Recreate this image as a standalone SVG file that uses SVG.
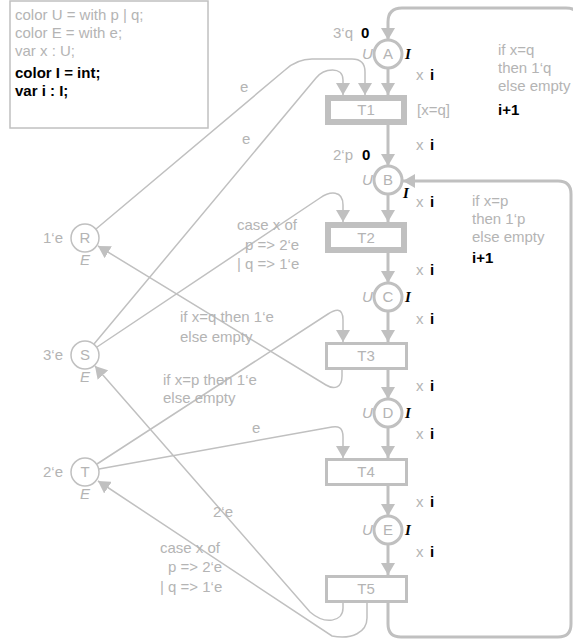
<svg xmlns="http://www.w3.org/2000/svg" width="573" height="639" viewBox="0 0 573 639">
<style>
.t{font-family:"Liberation Sans",Arial,sans-serif;font-size:15px;fill:#b4b4b4}
.b{font-family:"Liberation Sans",Arial,sans-serif;font-size:15px;font-weight:bold;fill:#000}
.it{font-family:"Liberation Sans",Arial,sans-serif;font-size:15px;font-style:italic;fill:#b4b4b4}
.ii{font-family:"Liberation Serif","Times New Roman",serif;font-size:15px;font-style:italic;font-weight:bold;fill:#000}
.pl{fill:#fff;stroke:#c0c0c0;stroke-width:3}
.pls{fill:#fff;stroke:#c0c0c0;stroke-width:1.5}
.tr1{fill:#fff;stroke:#c0c0c0;stroke-width:6}
.tr2{fill:#fff;stroke:#c0c0c0;stroke-width:3}
.a3{fill:none;stroke:#c0c0c0;stroke-width:3;marker-end:url(#ah)}
.a1{fill:none;stroke:#c0c0c0;stroke-width:1.5;marker-end:url(#ah)}
.c{text-anchor:middle}
</style>
<defs>
<marker id="ah" markerUnits="userSpaceOnUse" markerWidth="13" markerHeight="14" refX="12" refY="7" orient="auto">
<path d="M0,0 L12,7 L0,14 z" fill="#c0c0c0"/>
</marker>
</defs>
<g id="declarations">
<rect x="10" y="1" width="198" height="127" fill="#fff" stroke="#c0c0c0" stroke-width="1.5"/>
<text class="t" x="15" y="20">color U = with p | q;</text>
<text class="t" x="15" y="38">color E = with e;</text>
<text class="t" x="15" y="56">var x : U;</text>
<text class="b" x="15" y="78">color I = int;</text>
<text class="b" x="15" y="96">var i : I;</text>
</g>
<g id="connectors">
<path class="a3" d="M388,68 V95"/>
<path class="a3" d="M388,125 V166"/>
<path class="a3" d="M388,194 V222"/>
<path class="a3" d="M388,253 V283"/>
<path class="a3" d="M388,311 V342"/>
<path class="a3" d="M388,369 V399"/>
<path class="a3" d="M388,427 V458"/>
<path class="a3" d="M388,485 V516"/>
<path class="a3" d="M388,544 V575"/>
<path class="a3" d="M580,200 V22 Q580,8 566,8 H402 Q388,8 388,22 V40"/>
<path class="a3" d="M388,603 V624 Q388,637 401,637 H558 Q571,637 571,624 V194 Q571,181 558,181 H403"/>
<path class="a1" d="M96,229 L285,70 Q297,59 312,59 H352 Q365,59 365,72 V95"/>
<path class="a1" d="M94,344 L316,78 C324,68 343,66 343,80 V95"/>
<path class="a1" d="M97,347 L320,198 C330,191 343,190 343,205 V222"/>
<path class="a1" d="M342,369 V376 C342,388 334,390 326,385 L98,246"/>
<path class="a1" d="M97,464 L328,314 C334,310 343,306 343,320 V342"/>
<path class="a1" d="M99,469 L332,427 C338,426 343,427 343,437 V458"/>
<path class="a1" d="M343,603 V608 C343,622 325,625 310,612 L95,366"/>
<path class="a1" d="M367,603 V618 C367,632 352,640 332,636 L98,481"/>
</g>
<g id="arc-labels">
<text class="t" x="240" y="92">e</text>
<text class="t" x="242" y="144">e</text>
<text class="t" x="252" y="433">e</text>
<text class="t" x="213" y="517">2‘e</text>
<text class="t" x="237" y="230">case x of</text>
<text class="t" x="245" y="250">p =&gt; 2‘e</text>
<text class="t" x="237" y="269">| q =&gt; 1‘e</text>
<text class="t" x="180" y="322">if x=q then 1‘e</text>
<text class="t" x="180" y="342">else empty</text>
<text class="t" x="163" y="385">if x=p then 1‘e</text>
<text class="t" x="163" y="403">else empty</text>
<text class="t" x="160" y="553">case x of</text>
<text class="t" x="168" y="572">p =&gt; 2‘e</text>
<text class="t" x="160" y="592">| q =&gt; 1‘e</text>
<text class="t" x="498" y="55">if x=q</text>
<text class="t" x="498" y="73">then 1‘q</text>
<text class="t" x="498" y="91">else empty</text>
<text class="b" x="498" y="115">i+1</text>
<text class="t" x="472" y="206">if x=p</text>
<text class="t" x="472" y="224">then 1‘p</text>
<text class="t" x="472" y="242">else empty</text>
<text class="b" x="472" y="263">i+1</text>
<text class="t" x="416" y="80">x</text><text class="b" x="430" y="80">i</text>
<text class="t" x="416" y="150">x</text><text class="b" x="430" y="150">i</text>
<text class="t" x="416" y="207">x</text><text class="b" x="430" y="207">i</text>
<text class="t" x="416" y="275">x</text><text class="b" x="430" y="275">i</text>
<text class="t" x="416" y="324">x</text><text class="b" x="430" y="324">i</text>
<text class="t" x="416" y="391">x</text><text class="b" x="430" y="391">i</text>
<text class="t" x="416" y="439">x</text><text class="b" x="430" y="439">i</text>
<text class="t" x="416" y="507">x</text><text class="b" x="430" y="507">i</text>
<text class="t" x="416" y="557">x</text><text class="b" x="430" y="557">i</text>
</g>
<g id="place-A">
<circle class="pl" cx="388" cy="54" r="14"/>
<text class="t c" x="388" y="59">A</text>
<text class="it" x="362" y="59">U</text>
<text class="ii" x="405" y="59">I</text>
<text class="t" x="333" y="38">3‘q</text>
<text class="b" x="361" y="38">0</text>
</g>
<g id="trans-T1">
<rect class="tr1" x="328" y="98" width="76" height="24"/>
<text class="t c" x="366" y="115">T1</text>
<text class="t" x="417" y="115">[x=q]</text>
</g>
<g id="place-B">
<circle class="pl" cx="388" cy="180" r="14"/>
<text class="t c" x="388" y="185">B</text>
<text class="it" x="362" y="185">U</text>
<text class="ii" x="403" y="198">I</text>
<text class="t" x="333" y="160">2‘p</text>
<text class="b" x="362" y="160">0</text>
</g>
<g id="trans-T2">
<rect class="tr1" x="328" y="225" width="76" height="25"/>
<text class="t c" x="366" y="243">T2</text>
</g>
<g id="place-C">
<circle class="pl" cx="388" cy="297" r="14"/>
<text class="t c" x="388" y="302">C</text>
<text class="it" x="362" y="302">U</text>
<text class="ii" x="405" y="302">I</text>
</g>
<g id="trans-T3">
<rect class="tr2" x="326.5" y="343.5" width="80" height="25"/>
<text class="t c" x="366" y="361">T3</text>
</g>
<g id="place-D">
<circle class="pl" cx="388" cy="413" r="14"/>
<text class="t c" x="388" y="418">D</text>
<text class="it" x="362" y="418">U</text>
<text class="ii" x="405" y="418">I</text>
</g>
<g id="trans-T4">
<rect class="tr2" x="326.5" y="459.5" width="80" height="25"/>
<text class="t c" x="366" y="477">T4</text>
</g>
<g id="place-E">
<circle class="pl" cx="388" cy="530" r="14"/>
<text class="t c" x="388" y="535">E</text>
<text class="it" x="362" y="535">U</text>
<text class="ii" x="405" y="535">I</text>
</g>
<g id="trans-T5">
<rect class="tr2" x="326.5" y="576.5" width="80" height="25"/>
<text class="t c" x="366" y="594">T5</text>
</g>
<g id="place-R">
<circle class="pls" cx="85" cy="238" r="14"/>
<text class="t c" x="85" y="243">R</text>
<text class="t" x="43" y="243">1‘e</text>
<text class="it c" x="85" y="265">E</text>
</g>
<g id="place-S">
<circle class="pls" cx="85" cy="355" r="14"/>
<text class="t c" x="85" y="360">S</text>
<text class="t" x="43" y="360">3‘e</text>
<text class="it c" x="85" y="382">E</text>
</g>
<g id="place-T">
<circle class="pls" cx="85" cy="472" r="14"/>
<text class="t c" x="85" y="477">T</text>
<text class="t" x="43" y="477">2‘e</text>
<text class="it c" x="85" y="499">E</text>
</g>
</svg>
